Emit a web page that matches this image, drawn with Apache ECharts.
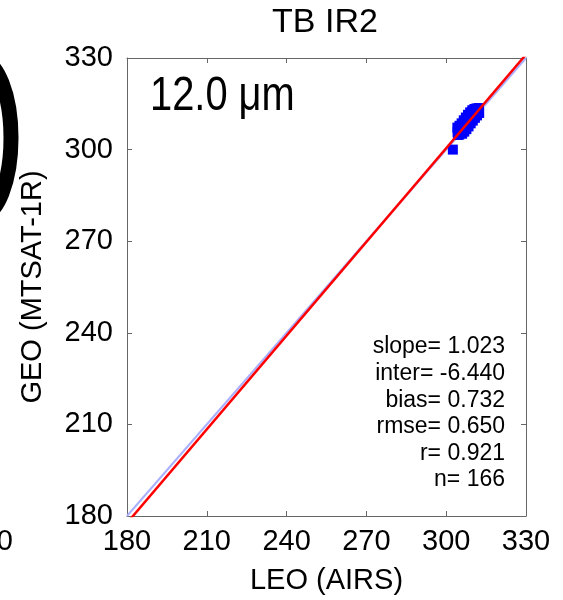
<!DOCTYPE html>
<html>
<head>
<meta charset="utf-8">
<script src="https://cdn.jsdelivr.net/npm/echarts@6/dist/echarts.min.js"></script>
<style>html,body{margin:0;padding:0;background:#fff;}#c{width:563px;height:600px;}</style>
</head>
<body>
<div id="c"></div>
<script>
// ---- data ----
var titleText = 'TB IR2';
var xName = 'LEO (AIRS)';
var yName = 'GEO (MTSAT-1R)';
var channelLabel = '12.0 \u03bcm';
var axisMin = 180, axisMax = 330, axisStep = 30;
var fitSlope = 1.023;
var fitInter = -6.440;
var statLines = ['slope= 1.023', 'inter= -6.440', 'bias= 0.732', 'rmse= 0.650', 'r= 0.921', 'n= 166'];
var leoTb = [304.2,304.3,304.4,304.6,304.9,305.0,305.3,305.4,305.7,305.8,306.0,306.1,306.3,306.4,306.6,306.8,306.9,307.1,307.2,307.4,307.5,307.6,307.8,307.9,308.0,308.2,308.3,308.5,308.6,308.7,308.9,309.0,309.1,309.3,309.4,309.5,309.7,309.8,310.0,310.1,310.3,310.4,310.6,310.8,310.9,311.1,311.3,311.4,311.6,311.8,311.9,312.1,312.3,
  305.0,305.8,306.6,307.4,308.2,309.0,309.8,310.6,311.4,
  306.0,306.8,307.6,308.4,309.2,310.0,310.8,311.6,312.4,
  302.5];
var geoTb = [307.2,305.8,304.8,305.6,304.9,306.2,305.5,306.8,306.0,307.4,306.6,305.9,307.9,307.0,308.4,307.5,306.8,308.9,308.0,309.5,308.6,307.7,310.0,309.1,308.3,310.4,309.6,308.9,310.9,310.1,309.3,311.3,310.5,309.8,311.7,310.9,310.3,312.1,311.4,310.7,312.5,311.7,311.1,312.8,312.1,311.5,313.1,312.4,311.9,313.3,312.7,313.0,313.6,
  307.8,308.6,309.6,310.5,311.4,312.2,312.9,313.3,313.5,
  305.2,305.9,306.7,307.6,308.6,309.5,310.4,311.2,312.0,
  300.0];

var pts = leoTb.map(function (v, i) { return [v, geoTb[i]]; });
var fitLine = [[axisMin, fitSlope * axisMin + fitInter], [axisMax, fitSlope * axisMax + fitInter]];
var oneToOne = [[axisMin, axisMin], [axisMax, axisMax]];

var FONT = 'Liberation Sans, Arial, sans-serif';
var axisCol = '#666';
function baseAxis(extra) {
  var a = {
    type: 'value', min: axisMin, max: axisMax, interval: axisStep,
    axisLine: { show: true, lineStyle: { color: axisCol, width: 1 } },
    axisTick: { show: true, inside: true, length: 5, lineStyle: { color: axisCol } },
    splitLine: { show: false },
    axisLabel: { show: true, color: '#000', fontSize: 29, fontFamily: FONT }
  };
  for (var k in extra) a[k] = extra[k];
  return a;
}

var chart = echarts.init(document.getElementById('c'), null, { renderer: 'canvas' });
var statGraphics = statLines.map(function (s, i) {
  return { type: 'text', x: 505, y: 347 + i * 26.6,
    style: { text: s, fill: '#000', font: '23px ' + FONT, textAlign: 'right', textVerticalAlign: 'middle' } };
});
chart.setOption({
  animation: false,
  backgroundColor: '#fff',
  title: { text: titleText, left: 320, top: 1, textAlign: 'center',
    textStyle: { fontSize: 34, fontWeight: 'normal', color: '#000', fontFamily: FONT } },
  grid: { left: 127, right: 37, top: 58, bottom: 84 },
  xAxis: [
    baseAxis({ position: 'bottom', name: xName, nameLocation: 'middle', nameGap: 50,
      nameTextStyle: { fontSize: 29, color: '#000', fontFamily: FONT },
      axisLabel: { show: true, color: '#000', fontSize: 29, fontFamily: FONT, margin: 11 } }),
    baseAxis({ position: 'top', axisLabel: { show: false } })
  ],
  yAxis: [
    baseAxis({ position: 'left', name: yName, nameLocation: 'middle', nameGap: 80,
      nameTextStyle: { fontSize: 29, color: '#000', fontFamily: FONT },
      axisLabel: { show: true, color: '#000', fontSize: 29, fontFamily: FONT, margin: 14 } }),
    baseAxis({ position: 'right', axisLabel: { show: false } })
  ],
  series: [
    { type: 'scatter', data: pts, symbol: 'rect', symbolSize: 10,
      itemStyle: { color: '#0000ff', opacity: 1 }, z: 2 },
    { type: 'line', data: oneToOne, showSymbol: false, clip: true,
      lineStyle: { color: '#aab0ff', width: 2 }, z: 1 },
    { type: 'line', data: fitLine, showSymbol: false, clip: true,
      lineStyle: { color: '#ff0000', width: 2.5 }, z: 4 }
  ],
  graphic: [
    { type: 'text', x: 150, y: 97, scaleX: 0.83,
      style: { text: channelLabel, fill: '#000', font: '48px ' + FONT, textVerticalAlign: 'middle' } },
    { type: 'ellipse', shape: { cx: -20, cy: 138, rx: 31, ry: 78 },
      style: { fill: 'none', stroke: '#000', lineWidth: 15 } },
    { type: 'text', x: 13, y: 542,
      style: { text: '330', fill: '#000', font: '29px ' + FONT, textAlign: 'right', textVerticalAlign: 'middle' } }
  ].concat(statGraphics)
});
</script>
</body>
</html>
